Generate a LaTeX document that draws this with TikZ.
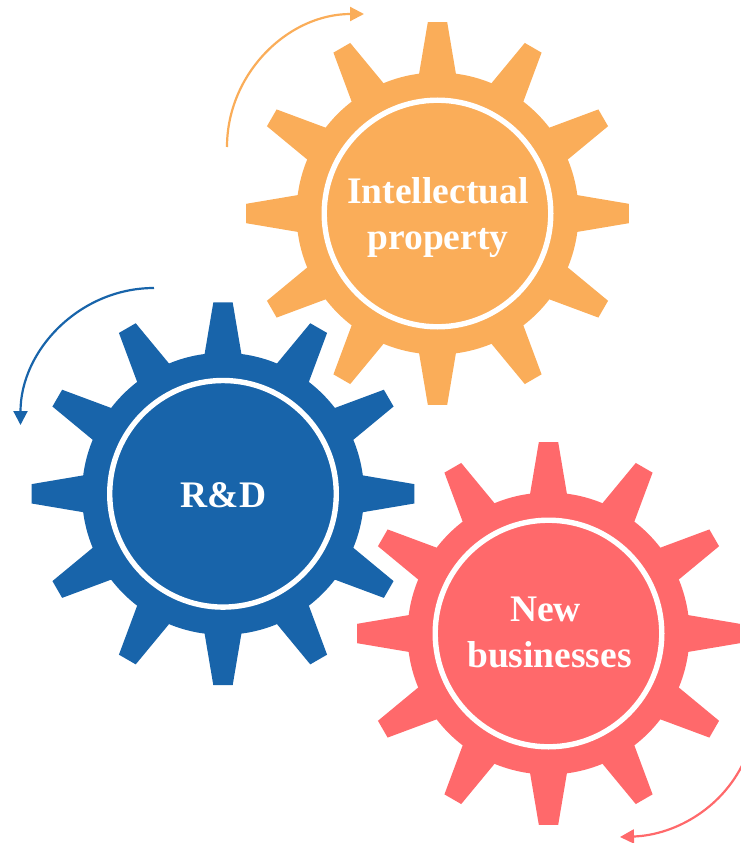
\documentclass[tikz,border=0pt]{standalone}
\usepackage{fontspec}
\setmainfont{Liberation Serif}
\usetikzlibrary{arrows.meta}
\definecolor{gearorange}{HTML}{FAAD59}
\definecolor{gearblue}{HTML}{1864AA}
\definecolor{gearred}{HTML}{FF696B}
\tikzset{
  hub/.style={circle,draw=white,line width=5.4pt,minimum size=226.6pt,inner sep=0pt},
  hubtext/.style={inner sep=0pt,text=white,align=center,font=\fontsize{37.5}{46.5}\selectfont\bfseries},
  turn/.style={line width=2.2pt,-{Triangle[length=14pt,width=14pt]}},
}
\newcommand{\gearshape}[3]{% x, y, colour
  \begin{scope}[shift={(#1,#2)}]
    \fill[#3] (0,0) circle[radius=141pt];
    \foreach \a in {0,30,...,330}{
      \fill[#3] (\a-7.5:135) -- (\a-7.5:141) -- (\a-2.9:191.6) -- (\a+2.9:191.6) -- (\a+7.5:141) -- (\a+7.5:135) -- cycle;
    }
  \end{scope}}
\begin{document}
\begin{tikzpicture}[x=1pt,y=-1pt]
\useasboundingbox (0,0) rectangle (740,843);
\gearshape{437.5}{213.5}{gearorange}
\gearshape{223}{493.8}{gearblue}
\gearshape{548.5}{633.5}{gearred}
\node[hub] (ip) at (437.5,213.5) {};
\node[hub] (rd) at (223,493.8) {};
\node[hub] (nb) at (548.5,633.5) {};
\node[hubtext] (ipt) at (438,217.5) {Intellectual\\property};
\node[hubtext] (rdt) at (223.5,495.5) {R\&D};
\node[hubtext] (nbt) at (549.5,632.5) {New\hspace*{8pt}\\businesses};
\coordinate (os) at (227,147);
\coordinate (oe) at (364,14);
\coordinate (bs) at (154,288);
\coordinate (be) at (20.5,425);
\coordinate (rs) at (746,757);
\coordinate (re) at (620,837);
\draw[turn,gearorange] (os) .. controls (227,73.5) and (288,14) .. (oe);
\draw[turn,gearblue] (bs) .. controls (80,288) and (20.5,350) .. (be);
\draw[turn,gearred] (rs) .. controls (725,807) and (676,835) .. (re);
\end{tikzpicture}
\end{document}
